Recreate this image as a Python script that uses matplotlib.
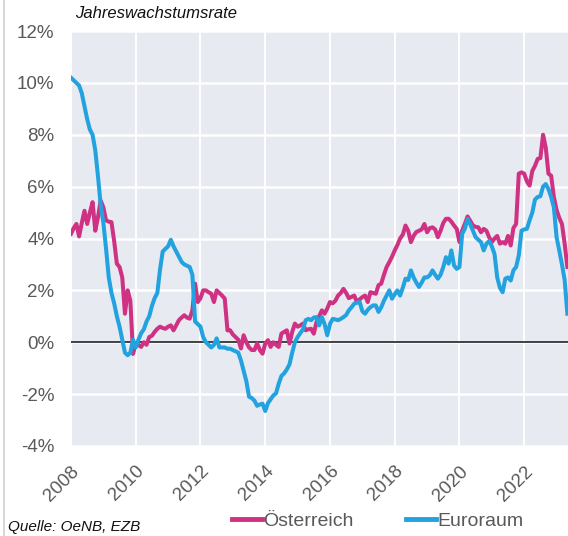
import numpy as np
import matplotlib
matplotlib.use("Agg")
import matplotlib.pyplot as plt
from matplotlib.lines import Line2D

# monatliche Jahreswachstumsraten in %, Jan 2008 bis Mai 2023
oesterreich = [
    4.18, 4.4, 4.56, 4.08, 4.6, 5.07, 4.56, 5.0, 5.4, 4.3, 4.82, 5.46,    # 2008
    5.2, 4.7, 4.65, 4.63, 3.9, 3.03, 2.9, 2.5, 1.1, 2.0, 1.6, -0.45,     # 2009
    -0.05, -0.1, -0.18, 0.0, -0.1, 0.2, 0.25, 0.4, 0.52, 0.6, 0.55, 0.52,  # 2010
    0.6, 0.65, 0.46, 0.65, 0.85, 0.95, 1.04, 0.95, 0.91, 1.23, 2.26, 1.55,  # 2011
    1.7, 2.0, 2.0, 1.93, 1.87, 1.55, 2.0, 1.9, 1.8, 1.68, 0.46, 0.46,    # 2012
    0.3, 0.2, 0.1, -0.24, 0.27, 0.0, -0.2, -0.3, -0.3, -0.05, -0.3, -0.44,  # 2013
    -0.05, 0.08, -0.18, 0.0, -0.1, -0.18, 0.33, 0.4, 0.46, -0.05, 0.4, 0.72,  # 2014
    0.6, 0.65, 0.72, 0.46, 0.5, 0.52, 0.33, 0.78, 1.0, 1.23, 1.1, 1.3,   # 2015
    1.55, 1.5, 1.6, 1.8, 1.9, 2.06, 1.9, 1.7, 1.75, 1.8, 1.55, 1.65,     # 2016
    1.74, 1.8, 1.55, 1.93, 1.9, 1.87, 2.2, 2.26, 2.6, 2.9, 3.09, 3.3,    # 2017
    3.54, 3.75, 4.0, 4.15, 4.5, 4.3, 3.86, 4.1, 4.25, 4.3, 4.35, 4.56,   # 2018
    4.24, 4.4, 4.43, 4.35, 4.05, 4.3, 4.6, 4.76, 4.76, 4.65, 4.5, 4.37,  # 2019
    3.86, 4.3, 4.56, 4.85, 4.68, 4.5, 4.45, 4.43, 4.24, 4.37, 4.3, 4.05,  # 2020
    3.86, 4.0, 4.1, 3.8, 3.86, 3.8, 4.1, 3.73, 4.4, 4.56, 6.5, 6.55,     # 2021
    6.5, 6.2, 6.04, 6.6, 6.8, 7.07, 7.1, 8.0, 7.5, 6.5, 6.42, 5.6,       # 2022
    5.1, 4.8, 4.56, 3.8, 2.9,                                            # 2023
]
euroraum = [
    10.2, 10.1, 10.0, 9.9, 9.6, 9.1, 8.6, 8.2, 8.0, 7.4, 6.4, 5.3,       # 2008
    4.6, 3.6, 2.5, 1.9, 1.5, 1.0, 0.6, 0.1, -0.4, -0.5, -0.4, 0.1,       # 2009
    -0.2, 0.1, 0.35, 0.5, 0.8, 1.0, 1.4, 1.7, 1.9, 2.8, 3.5, 3.6,        # 2010
    3.7, 3.95, 3.7, 3.5, 3.3, 3.1, 3.0, 2.95, 2.9, 2.6, 0.8, 0.7,        # 2011
    0.6, 0.2, 0.0, -0.1, -0.2, -0.1, 0.15, -0.2, -0.2, -0.2, -0.25, -0.25,  # 2012
    -0.3, -0.35, -0.4, -0.7, -1.1, -1.5, -2.1, -2.15, -2.25, -2.45, -2.4, -2.37,  # 2013
    -2.65, -2.35, -2.2, -2.05, -1.97, -1.6, -1.3, -1.2, -1.05, -0.85, -0.4, 0.0,  # 2014
    0.2, 0.35, 0.5, 0.85, 0.9, 0.85, 0.95, 0.97, 0.65, 0.97, 0.7, 0.27,  # 2015
    0.7, 0.9, 0.88, 0.85, 0.9, 0.97, 1.05, 1.23, 1.35, 1.49, 1.52, 1.55,  # 2016
    1.2, 1.1, 1.25, 1.35, 1.42, 1.42, 1.17, 1.35, 1.6, 1.8, 2.0, 1.68,   # 2017
    1.85, 2.0, 1.8, 2.1, 2.45, 2.4, 2.77, 2.5, 2.3, 2.13, 2.3, 2.5,      # 2018
    2.5, 2.58, 2.77, 2.6, 2.45, 2.6, 2.9, 3.28, 3.03, 3.54, 2.96, 2.83,  # 2019
    2.9, 4.18, 4.37, 4.76, 4.55, 4.3, 4.05, 3.95, 3.86, 3.54, 3.8, 3.9,  # 2020
    3.7, 3.4, 2.5, 2.1, 1.93, 2.45, 2.5, 2.38, 2.77, 2.9, 3.35, 4.3,     # 2021
    4.35, 4.37, 4.7, 5.0, 5.5, 5.6, 5.63, 6.0, 6.1, 5.9, 5.6, 5.2,       # 2022
    4.05, 3.54, 3.0, 2.4, 1.1,                                           # 2023
]
start_jahr = 2008
jahr_ticks = list(range(2008, 2023, 2))
y_ticks = list(range(-4, 13, 2))

zeit = start_jahr + np.arange(len(euroraum)) / 12.0

plt.rcParams["font.family"] = ["Liberation Sans", "DejaVu Sans"]

fig = plt.figure(figsize=(5.68, 5.36), dpi=100)
ax = fig.add_axes([71 / 568, 1 - 446 / 536, 1 - 71 / 568, (446 - 31) / 536])
ax.set_facecolor("#E8EAF2")

for y in y_ticks:
    ax.axhline(y, color="white", lw=1.8, zorder=1)
for x in jahr_ticks:
    ax.axvline(x, color="white", lw=1.4, zorder=1)
ax.axhline(0, color="#222222", lw=1.2, zorder=2)

farbe_at = "#CF3282"
farbe_ea = "#22A2DF"
ax.plot(zeit, oesterreich, color=farbe_at, lw=2.9, zorder=3, solid_joinstyle="round")
ax.plot(zeit, euroraum, color=farbe_ea, lw=2.9, zorder=4, solid_joinstyle="round")

ax.set_xlim(start_jahr, zeit[-1] + 0.02)
ax.set_ylim(-4, 12)
ax.set_xticks(jahr_ticks)
ax.set_yticks(y_ticks)
ax.set_yticklabels([f"{v}%" for v in y_ticks])
ax.tick_params(length=0, labelsize=13.5, labelcolor="#595959", pad=12)
plt.setp(ax.get_xticklabels(), rotation=45, ha="right", rotation_mode="anchor")
for s in ax.spines.values():
    s.set_visible(False)
ax.grid(False)

fig.text(75 / 568, 1 - 13 / 536, "Jahreswachstumsrate", fontsize=12,
         style="italic", ha="left", va="center", color="#111111")
fig.text(8 / 568, 1 - 534 / 536, "Quelle: OeNB, EZB", fontsize=11,
         style="italic", ha="left", va="bottom", color="#111111")

fig.add_artist(Line2D([4 / 568, 4 / 568], [0, 1], color="#CFCFCF", lw=1.2))

handles = [Line2D([], [], color=farbe_at, lw=3.5),
           Line2D([], [], color=farbe_ea, lw=3.5)]
fig.legend(handles, ["Österreich", "Euroraum"], loc="center",
           bbox_to_anchor=(378 / 568, 1 - 521 / 536), ncol=2, frameon=False,
           fontsize=14, handlelength=1.5, handletextpad=0.1, columnspacing=2.7,
           labelcolor="#595959")

fig.savefig("out.png", dpi=100)
